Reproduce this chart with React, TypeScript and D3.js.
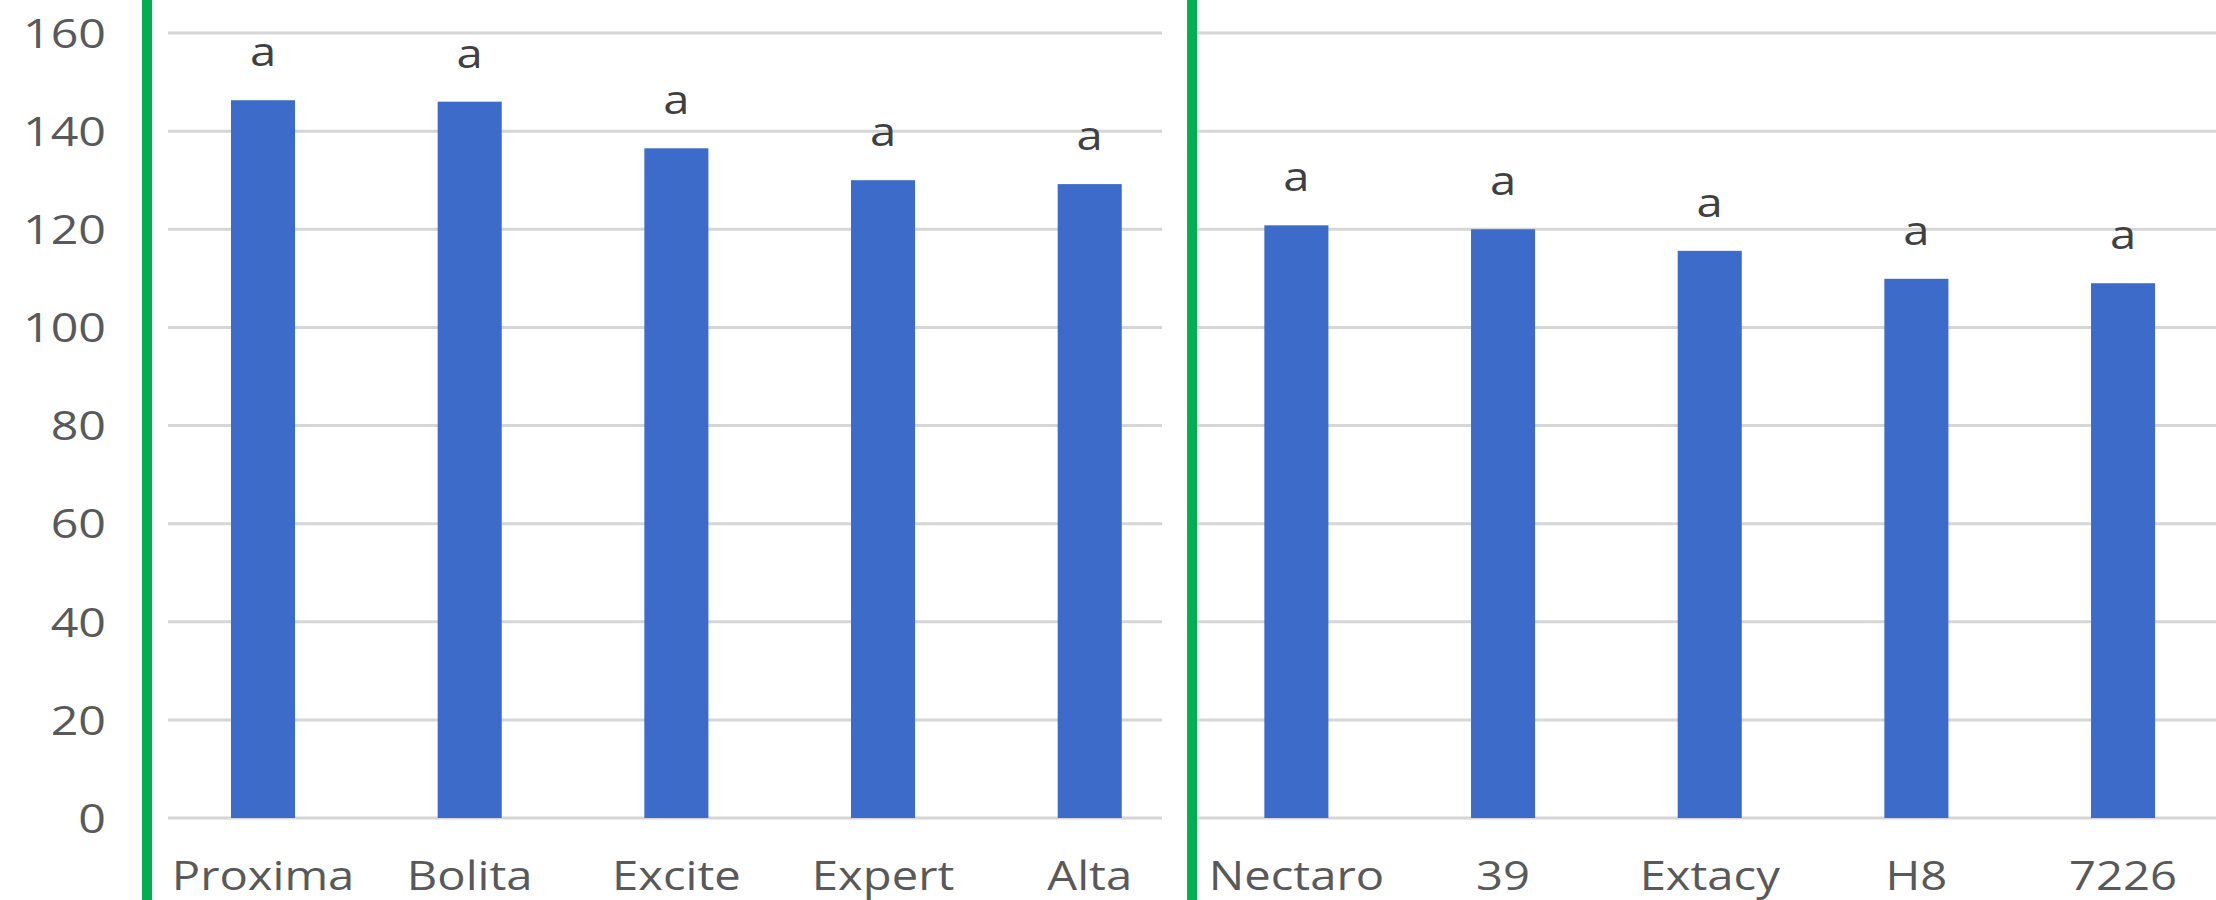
import React from "react";
import * as d3 from "d3";

const categories = ["Proxima", "Bolita", "Excite", "Expert", "Alta", "Nectaro", "39", "Extacy", "H8", "7226"];
const values = [146.3, 146.0, 136.5, 130.0, 129.2, 120.8, 120.0, 115.6, 109.9, 109.0];
const letters = ["a", "a", "a", "a", "a", "a", "a", "a", "a", "a"];
const yTicks = [0, 20, 40, 60, 80, 100, 120, 140, 160];

const W = 2216;
const H = 900;

export default function App() {
  const x = d3.scaleBand<string>().domain(categories).range([159.7, 2226.4]).paddingInner(0.69).paddingOuter(0.345);
  const y = d3.scaleLinear().domain([0, 160]).range([818, 33]);
  const font = "'Open Sans', 'DejaVu Sans', sans-serif";
  const sx = 1.18;
  const step = x.step();
  const sepX = (x("Alta")! + x("Nectaro")!) / 2 + x.bandwidth() / 2;

  return (
    <svg width={W} height={H} style={{ position: "absolute", left: 0, top: 0, background: "#fff" }}>
      <rect x={0} y={0} width={W} height={H} fill="#fff" />
      {yTicks.map((t) => (
        <line key={"g" + t} x1={168} x2={W} y1={y(t)} y2={y(t)} stroke="#d6d6d6" strokeWidth={3} />
      ))}
      {yTicks.map((t) => (
        <g key={"yl" + t} transform={`translate(106,${y(t)}) scale(${sx},1)`}>
          <text x={0} y={0} dy="0.36em" textAnchor="end" fontFamily={font} fontSize={41} fill="#595959">
            {t}
          </text>
        </g>
      ))}
      {categories.map((c, i) => (
        <rect key={"b" + c} x={x(c)!} y={y(values[i])} width={x.bandwidth()} height={y(0) - y(values[i])} fill="#3d6bc9" />
      ))}
      {categories.map((c, i) => (
        <g key={"a" + c} transform={`translate(${x(c)! + x.bandwidth() / 2},${y(values[i]) - 34}) scale(${sx},1)`}>
          <text x={0} y={0} textAnchor="middle" fontFamily={font} fontSize={40} fill="#404040">
            {letters[i]}
          </text>
        </g>
      ))}
      {categories.map((c) => (
        <g key={"xl" + c} transform={`translate(${x(c)! + x.bandwidth() / 2},890) scale(${sx},1)`}>
          <text x={0} y={0} textAnchor="middle" fontFamily={font} fontSize={40} fill="#595959">
            {c}
          </text>
        </g>
      ))}
      <rect x={152} y={0} width={16} height={H} fill="#fff" opacity={0} />
      <rect x={sepX - 31} y={0} width={25} height={830} fill="#fff" />
      <rect x={142} y={0} width={10} height={H} fill="#00b050" />
      <rect x={sepX - 6} y={0} width={10} height={H} fill="#00b050" />
    </svg>
  );
}
